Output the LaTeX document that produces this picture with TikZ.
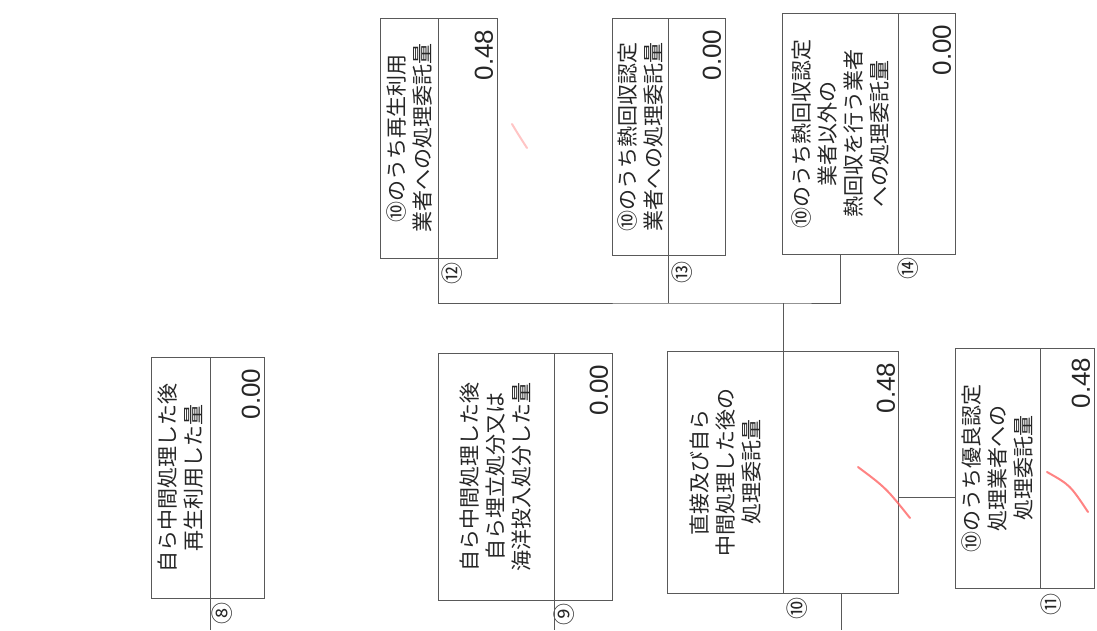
\documentclass[tikz,border=0pt]{standalone}
\usepackage{fontspec}
\newfontfamily\jpfont{Noto Sans CJK JP}
\newfontfamily\numfont{Liberation Sans}
\usetikzlibrary{positioning}

\tikzset{
  cell/.style={draw=black!65, line width=0.9pt, inner sep=0pt},
  lbl/.style={rotate=90, align=center, text=black!85, font=\jpfont\fontsize{21}{26}\selectfont},
  val/.style={rotate=90, anchor=south east, inner sep=0pt, text=black!85, font=\numfont\fontsize{26}{26}\selectfont},
  circ/.style={rotate=90, inner sep=0pt, text=black!85, font=\jpfont\fontsize{22}{22}\selectfont},
  wire/.style={draw=black!65, line width=0.9pt},
  redmark/.style={draw=red!65!white, line width=2pt, line cap=round, opacity=0.75},
}

\begin{document}
\begin{tikzpicture}[x=1pt, y=-1pt]
\useasboundingbox (0,0) rectangle (1097,630);

% lower row
\node[cell, minimum width=59pt, minimum height=241pt] (t8) at (180.5,477.5) {};
\node[cell, minimum width=54pt, minimum height=241pt, right=0pt of t8] (v8) {};
\node[lbl] (l8) at (t8.center) {自ら中間処理した後\\再生利用した量};
\node[val] (n8) at ([shift={(-5,12)}]v8.north east) {0.00};
\node[circ] (c8) at ([shift={(12,15)}]t8.south east) {⑧};

\node[cell, minimum width=116pt, minimum height=247pt] (t9) at (496,476.5) {};
\node[cell, minimum width=58pt, minimum height=247pt, right=0pt of t9] (v9) {};
\node[lbl] (l9) at (t9.center) {自ら中間処理した後\\自ら埋立処分又は\\海洋投入処分した量};
\node[val] (n9) at ([shift={(-5,12)}]v9.north east) {0.00};
\node[circ] (c9) at ([shift={(10,14)}]t9.south east) {⑨};

\node[cell, minimum width=116pt, minimum height=242pt] (t10) at (725,472) {};
\node[cell, minimum width=115pt, minimum height=242pt, right=0pt of t10] (v10) {};
\node[lbl] (l10) at (t10.center) {直接及び自ら\\中間処理した後の\\処理委託量};
\node[val] (n10) at ([shift={(-4,12)}]v10.north east) {0.48};
\node[circ] (c10) at ([shift={(14,15)}]t10.south east) {⑩};

\node[cell, minimum width=85pt, minimum height=240pt] (t11) at (997.5,468) {};
\node[cell, minimum width=54pt, minimum height=240pt, right=0pt of t11] (v11) {};
\node[lbl] (l11) at (t11.center) {⑩のうち優良認定\\処理業者への\\処理委託量};
\node[val] (n11) at ([shift={(-5,10)}]v11.north east) {0.48};
\node[circ] (c11) at ([shift={(11,16)}]t11.south east) {⑪};

% upper row
\node[cell, minimum width=58pt, minimum height=240pt] (t12) at (409,138) {};
\node[cell, minimum width=59pt, minimum height=240pt, right=0pt of t12] (v12) {};
\node[lbl] (l12) at (t12.center) {⑩のうち再生利用\\業者への処理委託量};
\node[val] (n12) at ([shift={(-5,12)}]v12.north east) {0.48};
\node[circ] (c12) at ([shift={(14,15)}]t12.south east) {⑫};

\node[cell, minimum width=56pt, minimum height=237pt] (t13) at (640,136.5) {};
\node[cell, minimum width=57pt, minimum height=237pt, right=0pt of t13] (v13) {};
\node[lbl] (l13) at (t13.center) {⑩のうち熱回収認定\\業者への処理委託量};
\node[val] (n13) at ([shift={(-5,12)}]v13.north east) {0.00};
\node[circ] (c13) at ([shift={(14,17)}]t13.south east) {⑬};

\node[cell, minimum width=116pt, minimum height=241pt] (t14) at (840,133.5) {};
\node[cell, minimum width=57pt, minimum height=241pt, right=0pt of t14] (v14) {};
\node[lbl] (l14) at (t14.center) {⑩のうち熱回収認定\\業者以外の\\熱回収を行う業者\\への処理委託量};
\node[val] (n14) at ([shift={(-5,12)}]v14.north east) {0.00};
\node[circ] (c14) at ([shift={(10,14)}]t14.south east) {⑭};

% connectors
\coordinate (jn) at (t10.north east |- 0,303);
\coordinate (bot) at (0,630);
\coordinate (side) at (0,497);
\draw[wire] (t12.south east) |- (jn) -| (t14.south);
\draw[wire] (t13.south east) -- (t13.south east |- jn);
\draw[wire] (jn) -- (t10.north east);
\draw[wire] (v10.east |- side) -- (t11.west |- side);
\draw[wire] (t8.south east) -- (t8.south east |- bot);
\draw[wire] (t9.south east) -- (t9.south east |- bot);
\draw[wire] (v10.south) -- (v10.south |- bot);

% red ticks
\draw[redmark, opacity=0.35] (512,124) .. controls (518,134) .. (527,148);
\draw[redmark] (858,467) .. controls (886,488) .. (910,518);
\draw[redmark] (1047,472) .. controls (1070,485) .. (1088,512);
\end{tikzpicture}
\end{document}
